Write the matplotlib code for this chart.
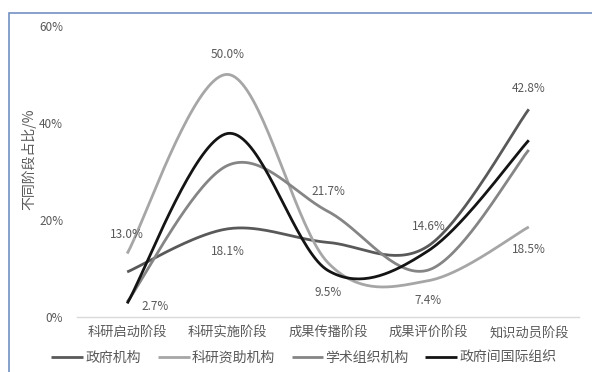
import numpy as np
import matplotlib
matplotlib.use("Agg")
import matplotlib.pyplot as plt
from matplotlib.patches import Rectangle

plt.rcParams['font.family'] = ['Noto Sans CJK SC', 'DejaVu Sans']
plt.rcParams['axes.unicode_minus'] = False

# 数据
stages = ["科研启动阶段", "科研实施阶段", "成果传播阶段", "成果评价阶段", "知识动员阶段"]
gov = [9.2, 18.1, 15.3, 14.6, 42.8]          # 政府机构
funder = [13.0, 50.0, 11.1, 7.4, 18.5]       # 科研资助机构
academic = [3.0, 31.2, 21.7, 9.6, 34.4]      # 学术组织机构
intergov = [2.7, 37.8, 9.5, 13.6, 36.4]      # 政府间国际组织
yticks = [0, 20, 40, 60]

names = ["政府机构", "科研资助机构", "学术组织机构", "政府间国际组织"]
colors = ["#595959", "#a6a6a6", "#858585", "#141414"]
series = [gov, funder, academic, intergov]

# 标注: (系列序号, 点序号, 文字偏移 px)
labels = [(1, 0, (0, 14)), (3, 0, (20, -2)), (1, 1, (0, 14)), (0, 1, (0, -16)),
          (2, 2, (0, 14)), (3, 2, (0, -16)), (0, 3, (0, 14)), (1, 3, (0, -14)),
          (0, 4, (0, 15)), (1, 4, (0, -16))]


def smooth(y, n=40):
    # Excel 风格的平滑线 (Catmull-Rom -> Bezier)
    x = np.arange(len(y), dtype=float)
    p = np.column_stack([x, np.asarray(y, float)])
    xs, ys = [], []
    for i in range(len(p) - 1):
        p0 = p[max(i - 1, 0)]
        p1 = p[i]
        p2 = p[i + 1]
        p3 = p[min(i + 2, len(p) - 1)]
        c1 = p1 + (p2 - p0) / 6
        c2 = p2 - (p3 - p1) / 6
        t = np.linspace(0, 1, n)[:, None]
        b = (1 - t) ** 3 * p1 + 3 * (1 - t) ** 2 * t * c1 + 3 * (1 - t) * t ** 2 * c2 + t ** 3 * p2
        xs.extend(b[:, 0])
        ys.extend(b[:, 1])
    return xs, ys


fig = plt.figure(figsize=(5.92, 3.72), dpi=100)
ax = fig.add_axes([77 / 592, 1 - 316.5 / 372, 502 / 592, 290.5 / 372])

for s, name, c in zip(series, names, colors):
    sx, sy = smooth(s)
    ax.plot(sx, sy, color=c, lw=2.0, label=name, solid_capstyle='butt')

for si, pi, off in labels:
    v = series[si][pi]
    ax.annotate(f"{v:.1f}%", (pi, v), xytext=off, textcoords='offset points',
                ha='center', va='center', fontsize=8.5, color='#595959')

ax.set_xlim(-0.5, len(stages) - 0.5)
ax.set_ylim(0, 60)
ax.set_xticks(range(len(stages)))
ax.set_xticklabels(stages, fontsize=9.5, color='#595959')
ax.set_yticks(yticks)
ax.set_yticklabels([f"{v}%" for v in yticks], fontsize=8.5, color='#595959')
ax.tick_params(length=0)
ax.tick_params(axis='y', pad=10)
ax.tick_params(axis='x', pad=7)
for sp in ['top', 'right', 'left']:
    ax.spines[sp].set_visible(False)
ax.spines['bottom'].set_color('#d9d9d9')
ax.spines['bottom'].set_linewidth(1.0)

ax.set_ylabel("不同阶段占比/%", fontsize=10, color='#595959')
ax.yaxis.set_label_coords(-0.08, 0.54)

fig.legend(loc='center', bbox_to_anchor=(304 / 592, 1 - 358 / 372), ncol=4, frameon=False,
           fontsize=10, handlelength=2.3, handletextpad=0.15, columnspacing=1.2,
           labelcolor='#595959')

# 外框
fig.patches.append(Rectangle((9 / 592, -0.2), 1.2, 1.2 - 12.7 / 372,
                             transform=fig.transFigure, fill=False,
                             edgecolor='#7391c4', lw=1.2))

fig.savefig("out.png", dpi=100)
